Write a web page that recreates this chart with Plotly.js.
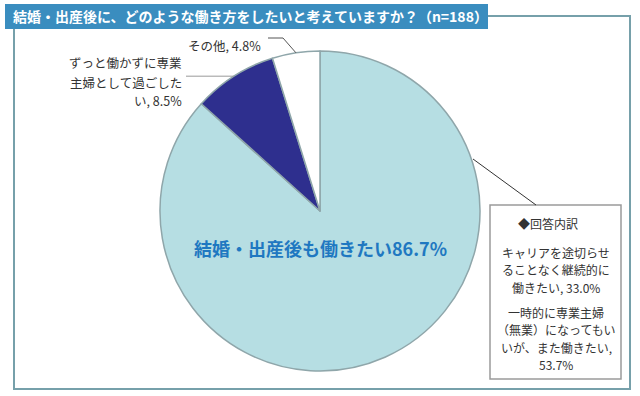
<!DOCTYPE html>
<html>
<head>
<meta charset="utf-8">
<script src="https://cdn.plot.ly/plotly-3.0.1.min.js"></script>
<style>
html,body{margin:0;padding:0;background:#fff;}
#chart{width:640px;height:396px;}
</style>
</head>
<body>
<div id="chart"></div>
<script>
// ---- data ----
const titleText = '結婚・出産後に、どのような働き方をしたいと考えていますか？（n=188）';
const categories = ['結婚・出産後も働きたい', 'ずっと働かずに専業主婦として過ごしたい', 'その他'];
const values = [86.7, 8.5, 4.8];
const mainLabel = '結婚・出産後も働きたい86.7%';
const otherLabelLines = ['その他, 4.8%'];
const housewifeLabelLines = ['ずっと働かずに専業', '主婦として過ごした', 'い, 8.5%'];
const boxHeader = '◆回答内訳';
const breakdownLines1 = ['キャリアを途切らせ', 'ることなく継続的に', '働きたい, 33.0%'];
const breakdownLines2 = ['一時的に専業主婦', '（無業）になってもい', 'いが、また働きたい,', '53.7%'];

// ---- geometry helpers (pixels -> paper) ----
const W = 640, H = 396;
const cx = 320, cy = 211, R = 160;
const px = x => x / W;
const py = y => 1 - y / H;
const FONT = '"Noto Sans CJK JP", "Noto Sans", sans-serif';

const total = values.reduce((a, b) => a + b, 0);
function midAngle(i) {
  let cum = 0;
  for (let k = 0; k < i; k++) cum += values[k];
  return (cum + values[i] / 2) / total * 2 * Math.PI; // clockwise from top
}
function rimPoint(i) {
  const a = midAngle(i);
  return [cx + R * Math.sin(a), cy - R * Math.cos(a)];
}

const trace = {
  type: 'pie',
  labels: categories,
  values: values,
  sort: false,
  direction: 'clockwise',
  rotation: 0,
  textinfo: 'none',
  hoverinfo: 'label+percent',
  marker: {
    colors: ['#b6dee3', '#2e2f8e', '#ffffff'],
    line: {color: '#8fa6aa', width: 1.5}
  },
  domain: {x: [px(cx - R), px(cx + R)], y: [py(cy + R), py(cy - R)]},
  showlegend: false
};

const shapes = [];
const annotations = [];

// outer frame
shapes.push({type: 'path', xref: 'paper', yref: 'paper',
  path: `M ${px(14)},${py(29)} L ${px(14)},${py(389)} L ${px(630)},${py(389)} L ${px(630)},${py(16)} L ${px(488)},${py(16)}`,
  line: {color: '#76a0aa', width: 2}, layer: 'below'});
// title band
shapes.push({type: 'rect', xref: 'paper', yref: 'paper',
  x0: px(5), x1: px(488), y0: py(29), y1: py(4),
  fillcolor: '#3a8dbf', line: {width: 0}, layer: 'below'});
annotations.push({xref: 'paper', yref: 'paper', x: px(11), y: py(16.5), xanchor: 'left', yanchor: 'middle',
  text: titleText, showarrow: false, font: {family: FONT, size: 14, color: '#ffffff', weight: 'bold'}});

// breakdown box
shapes.push({type: 'rect', xref: 'paper', yref: 'paper',
  x0: px(490), x1: px(621), y0: py(379), y1: py(205),
  fillcolor: '#ffffff', line: {color: '#9a9a9a', width: 1.5}, layer: 'above'});
// leader from pie to box
shapes.push({type: 'line', xref: 'paper', yref: 'paper',
  x0: px(473), y0: py(159), x1: px(536), y1: py(205),
  line: {color: '#333333', width: 1}});

// leader for その他
const pOther = rimPoint(2);
shapes.push({type: 'path', xref: 'paper', yref: 'paper',
  path: `M ${px(268)},${py(38)} L ${px(283)},${py(38)} L ${px(pOther[0])},${py(pOther[1])}`,
  line: {color: '#555555', width: 1}});
// leader for 専業主婦
const pHw = rimPoint(1);
shapes.push({type: 'line', xref: 'paper', yref: 'paper',
  x0: px(186), y0: py(pHw[1]), x1: px(pHw[0]), y1: py(pHw[1]),
  line: {color: '#999999', width: 1}});

function addLines(lines, x, y0, dy, xanchor, size) {
  lines.forEach((t, i) => {
    annotations.push({xref: 'paper', yref: 'paper', x: px(x), y: py(y0 + i * dy),
      xanchor: xanchor, yanchor: 'middle', text: t, showarrow: false,
      font: {family: FONT, size: size, color: '#333333'}});
  });
}
addLines(otherLabelLines, 263, 45, 0, 'right', 12.5);
addLines(housewifeLabelLines, 184, 63, 19, 'right', 12.5);
addLines([boxHeader], 548, 223, 0, 'center', 12);
addLines(breakdownLines1, 556, 252, 17.5, 'center', 12);
addLines(breakdownLines2, 556, 312, 17.5, 'center', 12);

// main label
annotations.push({xref: 'paper', yref: 'paper', x: px(320), y: py(248), xanchor: 'center', yanchor: 'middle',
  text: mainLabel, showarrow: false, font: {family: FONT, size: 18, color: '#1f78c1', weight: 'bold'}});

const layout = {
  width: W, height: H,
  margin: {l: 0, r: 0, t: 0, b: 0},
  paper_bgcolor: '#ffffff',
  shapes: shapes,
  annotations: annotations,
  showlegend: false
};

Plotly.newPlot('chart', [trace], layout, {displayModeBar: false, staticPlot: true});
</script>
</body>
</html>
